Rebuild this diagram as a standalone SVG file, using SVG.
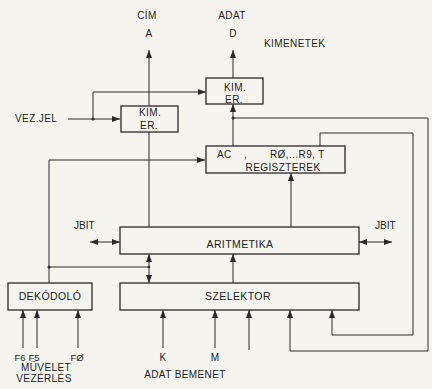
<svg xmlns="http://www.w3.org/2000/svg" width="432" height="389" viewBox="0 0 432 389">
<style>
.bx{fill:none;stroke:#2a2a2a;stroke-width:1.3}
.ln{fill:none;stroke:#2a2a2a;stroke-width:1}
.t{font-family:"Liberation Sans",Arial,sans-serif;font-size:10px;fill:#222;letter-spacing:0.4px}
.c{text-anchor:middle}
.n{letter-spacing:0}
.f{font-size:9.5px;letter-spacing:0}
</style>
<defs>
<marker id="ah" markerUnits="userSpaceOnUse" markerWidth="9" markerHeight="6" refX="8" refY="3" orient="auto-start-reverse">
<path d="M0,0 L8,3 L0,6 z" fill="#2a2a2a"/>
</marker>
</defs>
<rect width="432" height="389" fill="#f6f4ef"/>
<g id="connectors">
<path class="ln" d="M149,106 V50" marker-end="url(#ah)"/>
<path class="ln" d="M233,78 V50" marker-end="url(#ah)"/>
<path class="ln" d="M233,146 V104" marker-end="url(#ah)"/>
<path class="ln" d="M233,118 H428 V351 H290 V310" marker-end="url(#ah)"/>
<path class="ln" d="M320,146 V133 H413 V335 H332 V310" marker-end="url(#ah)"/>
<path class="ln" d="M68,119 H120" marker-end="url(#ah)"/>
<path class="ln" d="M93,119 V92 H206" marker-end="url(#ah)"/>
<path class="ln" d="M149,132 V227"/>
<path class="ln" d="M49,283 V160 H205" marker-end="url(#ah)"/>
<path class="ln" d="M291,227 V173" marker-end="url(#ah)"/>
<path class="ln" d="M90,242 H120" marker-start="url(#ah)" marker-end="url(#ah)"/>
<path class="ln" d="M359,242 H392" marker-start="url(#ah)" marker-end="url(#ah)"/>
<path class="ln" d="M149,254 V283" marker-start="url(#ah)" marker-end="url(#ah)"/>
<path class="ln" d="M49,267 H149"/>
<path class="ln" d="M233,283 V254" marker-end="url(#ah)"/>
<path class="ln" d="M23,348 V310" marker-end="url(#ah)"/>
<path class="ln" d="M37,348 V310" marker-end="url(#ah)"/>
<path class="ln" d="M78,348 V310" marker-end="url(#ah)"/>
<path class="ln" d="M163,348 V310" marker-end="url(#ah)"/>
<path class="ln" d="M215,348 V310" marker-end="url(#ah)"/>
<path class="ln" d="M249,350 V310" marker-end="url(#ah)"/>
<circle cx="93" cy="119" r="1.5" fill="#2a2a2a"/>
<circle cx="233" cy="118" r="1.5" fill="#2a2a2a"/>
<circle cx="49" cy="267" r="1.5" fill="#2a2a2a"/>
<circle cx="149" cy="267" r="1.3" fill="#2a2a2a"/>
</g>
<g id="labels">
<text class="t c" x="147" y="19">CÍM</text>
<text class="t c" x="149" y="37">A</text>
<text class="t c" x="232" y="19">ADAT</text>
<text class="t c" x="233" y="37">D</text>
<text class="t" x="264" y="47">KIMENETEK</text>
<text class="t" x="15" y="122">VEZ.JEL</text>
<text class="t n" x="74" y="229">JBIT</text>
<text class="t n" x="375" y="229">JBIT</text>
<text class="t c f" x="20" y="361">F6</text>
<text class="t c f" x="34" y="361">F5</text>
<text class="t c f" x="77" y="361">FØ</text>
<text class="t c" x="46" y="371">MŰVELET</text>
<text class="t c" x="44" y="382">VEZÉRLÉS</text>
<text class="t c" x="163" y="361">K</text>
<text class="t c" x="215" y="361">M</text>
<text class="t c" x="185" y="378">ADAT BEMENET</text>
</g>
<g id="kimer-left">
<rect class="bx" x="121" y="106" width="57" height="26"/>
<text class="t c" x="150" y="116">KIM.</text>
<text class="t c" x="149" y="129">ER.</text>
</g>
<g id="kimer-right">
<rect class="bx" x="206" y="78" width="57" height="26"/>
<text class="t c" x="235" y="91">KIM.</text>
<text class="t c" x="234" y="103">ER.</text>
</g>
<g id="regiszterek">
<rect class="bx" x="206" y="146" width="139" height="27"/>
<text class="t" x="217" y="158">AC</text>
<text class="t" x="244" y="158">,</text>
<text class="t" x="270" y="158">RØ,...R9, T</text>
<text class="t c" x="283" y="171">REGISZTEREK</text>
</g>
<g id="aritmetika">
<rect class="bx" x="120" y="227" width="239" height="27"/>
<text class="t c" x="240" y="248" style="font-size:10.5px">ARITMETIKA</text>
</g>
<g id="szelektor">
<rect class="bx" x="120" y="283" width="239" height="27"/>
<text class="t c" x="238" y="300" style="font-size:10.5px">SZELEKTOR</text>
</g>
<g id="dekodolo">
<rect class="bx" x="8" y="283" width="84" height="27"/>
<text class="t c" x="50" y="300" style="font-size:10.5px">DEKÓDOLÓ</text>
</g>
</svg>
